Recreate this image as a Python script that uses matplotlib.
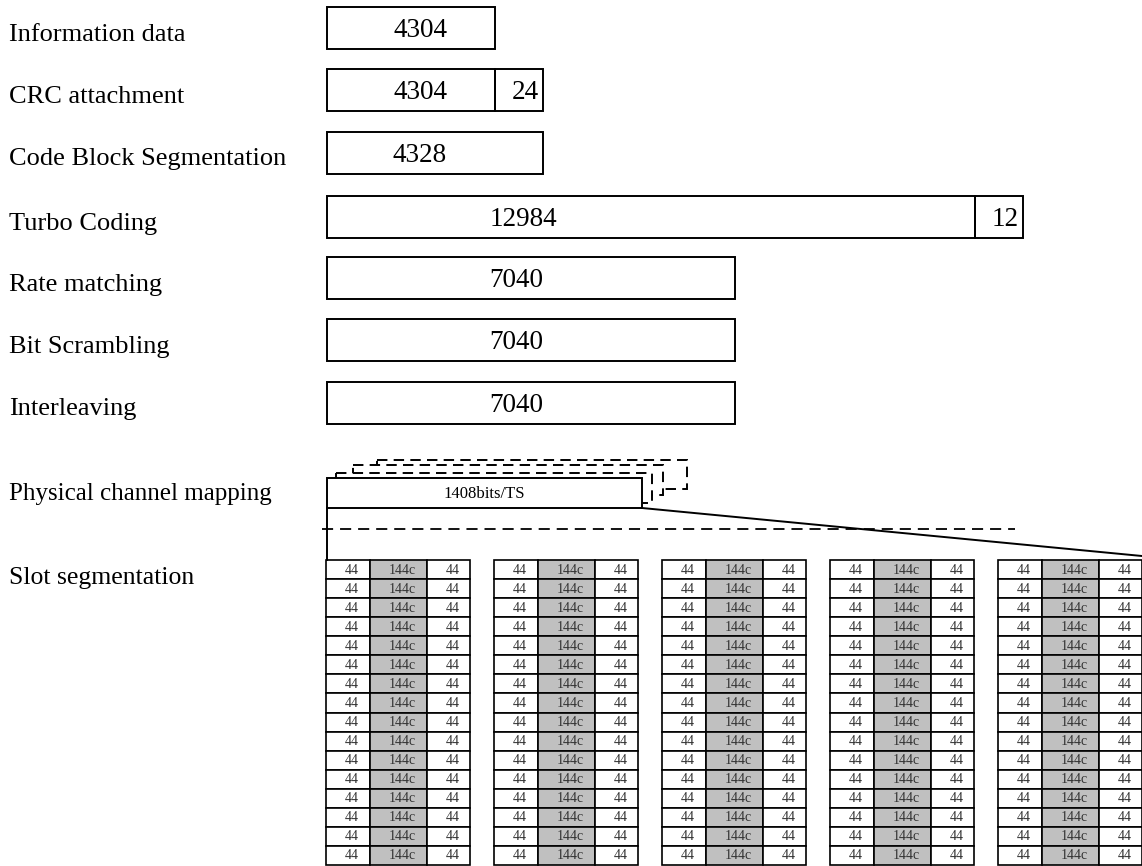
import matplotlib
matplotlib.use("Agg")
import matplotlib.pyplot as plt
from matplotlib.patches import Rectangle

plt.rcParams['lines.scale_dashes'] = False

# ---------------- data ----------------
stages = ["Information data", "CRC attachment", "Code Block Segmentation",
          "Turbo Coding", "Rate matching", "Bit Scrambling", "Interleaving"]
main_bits = ["4304", "4304", "4328", "12984", "7040", "7040", "7040"]
tail_bits = [None, "24", None, "12", None, None, None]
mapping_label = "Physical channel mapping"
mapping_text = "1408bits/TS"
slot_label = "Slot segmentation"
slot_cells = ["44", "144c", "44"]
slot_shaded = [False, True, False]
n_slots = 5
n_rows = 16

# ---------------- layout (pixels) ----------------
W, H = 1142, 866
box_left = 327
box_tops = [7, 69, 131.5, 196, 257, 319, 381.5]
box_h = 42
main_right = [495, 495, 543, 975, 735, 735, 735]
tail_right = [None, 543, None, 1023, None, None, None]
text_cx = [420, 420, 420, 523, 516, 516, 516]

fig = plt.figure(figsize=(W / 100, H / 100), dpi=100)
ax = fig.add_axes([0, 0, 1, 1])
ax.set_xlim(0, W)
ax.set_ylim(H, 0)
ax.axis("off")

serif = "Liberation Serif"
lw_box = 1.4
label_fs = 19
num_fs = 19.5

for i, name in enumerate(stages):
    top = box_tops[i]
    ax.text(9, top + 34, name, fontsize=label_fs, family=serif, va="baseline", ha="left")
    ax.add_patch(Rectangle((box_left, top), main_right[i] - box_left, box_h,
                           fill=False, ec="black", lw=lw_box))
    ax.text(text_cx[i], top + 30, main_bits[i], fontsize=num_fs, family=serif,
            va="baseline", ha="center")
    if tail_bits[i] is not None:
        ax.add_patch(Rectangle((main_right[i], top), tail_right[i] - main_right[i], box_h,
                               fill=False, ec="black", lw=lw_box))
        ax.text(tail_right[i] - 4, top + 30, tail_bits[i], fontsize=num_fs, family=serif,
                va="baseline", ha="right")

# physical channel mapping
ax.text(9, 500, mapping_label, fontsize=18, family=serif, va="baseline", ha="left")
dash = (0, (7.5, 4.5))
back_boxes = [(377, 460, 687, 489), (353, 465, 663, 495), (336, 473, 652, 503)]
for (l, t, r, b) in back_boxes:
    ax.add_patch(Rectangle((l, t), r - l, b - t, fc="white", ec="black",
                           lw=lw_box, ls=dash))
pm_l, pm_t, pm_r, pm_b = 327, 478, 642, 508
ax.add_patch(Rectangle((pm_l, pm_t), pm_r - pm_l, pm_b - pm_t, fc="white",
                       ec="black", lw=lw_box))
ax.text((pm_l + pm_r) / 2, (pm_t + pm_b) / 2 + 1, mapping_text, fontsize=12,
        family=serif, va="center", ha="center")

# separator dashed line
ax.plot([322, 1015], [529, 529], color="black", lw=1.3, ls=(0, (8, 5)))

# connector lines
grid_top, grid_bot = 560, 865
ax.plot([pm_l, pm_l], [pm_b, grid_top], color="black", lw=lw_box)
ax.plot([pm_r, W], [pm_b, 556], color="black", lw=lw_box)

# slot segmentation
ax.text(9, 584, slot_label, fontsize=18.5, family=serif, va="baseline", ha="left")
col_w = [44, 57, 43]
group_pitch = 168
group0 = 326
row_h = (grid_bot - grid_top) / n_rows
for g in range(n_slots):
    x0 = group0 + g * group_pitch
    for r in range(n_rows):
        y0 = grid_top + r * row_h
        x = x0
        for c, lab in enumerate(slot_cells):
            ax.add_patch(Rectangle((x, y0), col_w[c], row_h,
                                   fc="#c0c0c0" if slot_shaded[c] else "white",
                                   ec="black", lw=1.2))
            ax.text(x + col_w[c] / 2 + 4, y0 + row_h / 2 + 0.5, lab, fontsize=10,
                    family=serif, va="center", ha="center", color="#333333")
            x += col_w[c]

fig.savefig("out.png", dpi=100)
